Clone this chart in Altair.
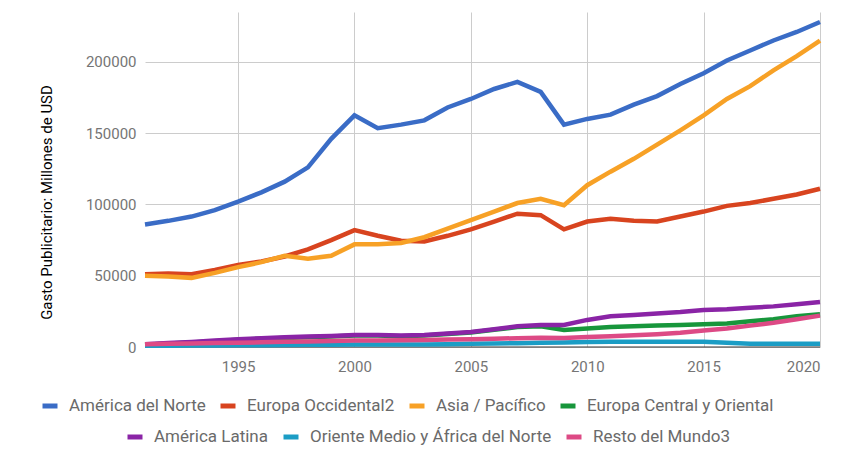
import altair as alt
import pandas as pd

years = list(range(1991, 2021))

names_a = ["América del Norte", "Europa Occidental2", "Asia / Pacífico", "Europa Central y Oriental"]
names_b = ["América Latina", "Oriente Medio y África del Norte", "Resto del Mundo3"]
colors_a = ["#3a6cc6", "#d8441f", "#f7a126", "#17963b"]
colors_b = ["#8a24a6", "#1b9dc5", "#dd4a85"]

america_norte = [86000, 88500, 91500, 96000, 102000, 108500, 116000, 126000, 146000, 162500,
                 153500, 156000, 159000, 168000, 174000, 181000, 186000, 179000, 156000, 160000,
                 163000, 170000, 176000, 184500, 192000, 201000, 208000, 215000, 221000, 228000]
europa_occ = [51000, 51500, 51000, 54000, 57500, 60000, 63500, 68500, 75000, 82000,
              78000, 74500, 74000, 78000, 82500, 88000, 93500, 92500, 82500, 88000,
              90000, 88500, 88000, 91500, 95000, 99000, 101000, 104000, 107000, 111000]
asia_pac = [50000, 49500, 48500, 52000, 56000, 59500, 64000, 62000, 64000, 72000,
            72000, 73000, 77000, 83000, 89000, 95000, 101000, 104000, 99500, 113500,
            123000, 132000, 142000, 152000, 162500, 174000, 183000, 194000, 204000, 215000]
europa_co = [1600, 2400, 3100, 4100, 5100, 5800, 6400, 6900, 7400, 8100,
             8100, 7600, 8100, 9100, 10100, 12100, 14000, 14500, 12000, 13000,
             14000, 14500, 15000, 15500, 16000, 16500, 18000, 19500, 21500, 23000]
america_lat = [2000, 2800, 3500, 4500, 5500, 6200, 6800, 7300, 7800, 8500,
               8500, 8000, 8500, 9500, 10500, 12500, 14500, 15500, 15500, 19000,
               21500, 22500, 23500, 24500, 26000, 26500, 27500, 28500, 30000, 31500]
oriente = [800, 900, 1000, 1100, 1200, 1300, 1400, 1500, 1600, 1700,
           1700, 1700, 1800, 2000, 2200, 2400, 2700, 3000, 3200, 3500,
           3600, 3700, 3700, 3700, 3600, 3000, 2200, 2200, 2200, 2300]
resto = [2000, 2200, 2500, 2800, 3000, 3300, 3600, 3900, 4200, 4500,
         4600, 4700, 4900, 5200, 5500, 5800, 6200, 6500, 6300, 7000,
         7500, 8300, 9000, 10000, 11500, 13000, 15000, 17000, 19500, 22000]

x_ticks = [1995, 2000, 2005, 2010, 2015, 2020]
y_ticks = [0, 50000, 100000, 150000, 200000]


def build(names, series):
    rows = []
    for n, vals in zip(names, series):
        for yr, v in zip(years, vals):
            rows.append({"anio": yr, "valor": v, "serie": n})
    return pd.DataFrame(rows)


df_a = build(names_a, [america_norte, europa_occ, asia_pac, europa_co])
df_b = build(names_b, [america_lat, oriente, resto])
df_base = pd.DataFrame({"valor": [0]})

FONT = "Roboto"

x_enc = alt.X("anio:Q",
              scale=alt.Scale(domain=[1991, 2020], nice=False, zero=False),
              axis=alt.Axis(values=x_ticks, format="d", title=None, grid=True,
                            domain=False, ticks=False, labelPadding=12,
                            labelFontSize=15, labelColor="#757575", labelFont=FONT,
                            gridColor="#cccccc", gridWidth=1))
y_enc = alt.Y("valor:Q",
              scale=alt.Scale(domain=[0, 235000], nice=False),
              axis=alt.Axis(values=y_ticks, format="d",
                            title="Gasto Publicitario: Millones de USD",
                            titleX=-99, titleY=190, titleAlign="center",
                            titleBaseline="middle", titleFontSize=15,
                            titleFontWeight="normal", titleColor="#000000",
                            titleFont=FONT, grid=True, domain=False, ticks=False,
                            labelPadding=9, labelFontSize=15, labelColor="#757575",
                            labelFont=FONT, gridColor="#cccccc", gridWidth=1))


def legend(lx, ly):
    return alt.Legend(orient="none", legendX=lx, legendY=ly, direction="horizontal",
                      title=None, symbolType="stroke", symbolSize=225,
                      symbolStrokeWidth=5, labelOffset=9, columnPadding=4,
                      labelFontSize=17, labelFont=FONT, labelColor="#6a6a6a",
                      labelLimit=400, padding=0)


base_rule = alt.Chart(df_base).mark_rule(color="#333333", strokeWidth=1).encode(
    y=alt.Y("valor:Q"))

lines_a = alt.Chart(df_a).mark_line(strokeWidth=4.5).encode(
    x=x_enc, y=y_enc,
    color=alt.Color("serie:N", scale=alt.Scale(domain=names_a, range=colors_a),
                    legend=legend(-105, 384)))

lines_b = alt.Chart(df_b).mark_line(strokeWidth=4.5).encode(
    x=alt.X("anio:Q"), y=alt.Y("valor:Q"),
    color=alt.Color("serie:N", scale=alt.Scale(domain=names_b, range=colors_b),
                    legend=legend(-20, 415)))

chart = alt.layer(base_rule, lines_a, lines_b).resolve_scale(color="independent").properties(
    width=675, height=335,
    autosize=alt.AutoSizeParams(type="none"),
    padding={"left": 137, "top": 4, "right": 10, "bottom": 100},
    background="white",
).configure_view(stroke=None)

chart.save("out.html", embed_options={"renderer": "svg", "actions": False})
